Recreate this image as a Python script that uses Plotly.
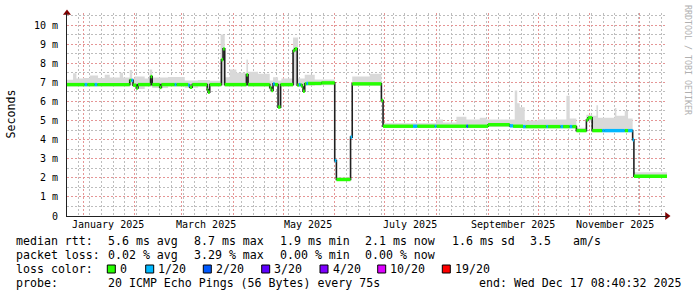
import plotly.graph_objects as go
import pandas as pd

# ---------------- data ----------------
start_time = "2024-12-22 08:40:32"
end_time = "2025-12-17 08:40:32"

median_start = [
    "2024-12-22 08:40", "2025-01-02 00:00", "2025-01-03 12:00", "2025-01-08 00:00", "2025-01-09 12:00",
    "2025-01-29 00:00", "2025-01-30 00:00", "2025-01-31 00:00", "2025-02-02 00:00", "2025-02-03 00:00",
    "2025-02-10 12:00", "2025-02-11 12:00", "2025-02-16 00:00", "2025-02-17 00:00", "2025-02-25 00:00",
    "2025-02-26 00:00", "2025-03-05 00:00", "2025-03-06 00:00", "2025-03-07 12:00", "2025-03-16 12:00",
    "2025-03-17 00:00", "2025-03-18 00:00", "2025-03-25 00:00", "2025-03-26 00:00", "2025-03-27 00:00",
    "2025-04-09 00:00", "2025-04-10 00:00", "2025-04-23 00:00", "2025-04-24 00:00", "2025-04-25 00:00",
    "2025-04-26 00:00", "2025-04-28 00:00", "2025-04-29 12:00", "2025-05-07 00:00", "2025-05-08 00:00",
    "2025-05-09 12:00", "2025-05-10 12:00", "2025-05-11 12:00", "2025-05-12 12:00", "2025-05-13 00:00",
    "2025-05-14 00:00", "2025-05-15 00:00", "2025-05-16 00:00", "2025-05-24 00:00", "2025-06-01 00:00",
    "2025-06-02 00:00", "2025-06-10 12:00", "2025-06-11 12:00", "2025-06-29 00:00", "2025-06-30 00:00",
    "2025-07-18 00:00", "2025-07-20 12:00", "2025-07-31 00:00", "2025-08-01 00:00", "2025-08-19 00:00",
    "2025-08-20 00:00", "2025-09-01 00:00", "2025-09-14 00:00", "2025-09-16 00:00", "2025-09-22 00:00",
    "2025-09-23 12:00", "2025-10-06 00:00", "2025-10-07 00:00", "2025-10-14 12:00", "2025-10-16 00:00",
    "2025-10-20 00:00", "2025-10-21 12:00", "2025-10-24 00:00", "2025-10-30 00:00", "2025-10-31 00:00",
    "2025-11-02 12:00", "2025-11-08 12:00", "2025-11-10 00:00", "2025-11-22 00:00", "2025-11-24 00:00",
    "2025-11-26 18:00", "2025-11-27 12:00",
]
median_ms = [
    6.88, 6.88, 6.88, 6.88, 6.88,
    7.10, 7.10, 6.85, 6.70, 6.88,
    7.30, 6.88, 6.73, 6.88, 6.88,
    6.88, 6.85, 6.74, 6.88, 6.62,
    6.48, 6.88, 8.18, 8.75, 6.88,
    7.39, 6.88, 6.72, 6.57, 6.92,
    6.88, 5.70, 6.88, 8.66, 8.75,
    6.85, 6.88, 6.85, 6.75, 6.53,
    6.92, 6.94, 6.94, 6.97, 2.90,
    1.91, 4.13, 6.92, 6.05, 4.70,
    4.70, 4.70, 4.70, 4.70, 4.70,
    4.70, 4.78, 4.72, 4.70, 4.68,
    4.68, 4.68, 4.68, 4.68, 4.68,
    4.68, 4.68, 4.47, 5.03, 5.14,
    4.47, 4.47, 4.47, 4.47, 4.47,
    3.99, 2.08,
]
median_loss = [
    0, 1, 0, 1, 0,
    0, 1, 0, 0, 0,
    0, 0, 0, 0, 1,
    0, 1, 0, 0, 0,
    0, 0, 0, 0, 0,
    0, 0, 0, 0, 1,
    0, 0, 0, 0, 0,
    0, 1, 0, 0, 0,
    0, 1, 0, 0, 1,
    0, 1, 0, 0, 0,
    1, 0, 1, 0, 2,
    0, 0, 1, 0, 1,
    0, 1, 0, 1, 0,
    1, 0, 0, 0, 0,
    0, 1, 1, 0, 1,
    1, 0,
]

smoke_start = [
    "2024-12-22 08:40", "2024-12-26 00:00", "2024-12-28 00:00", "2025-01-01 00:00", "2025-01-05 00:00",
    "2025-01-10 00:00", "2025-01-14 00:00", "2025-01-17 00:00", "2025-01-23 00:00", "2025-01-25 00:00",
    "2025-01-29 00:00", "2025-01-30 12:00", "2025-02-01 00:00", "2025-02-07 00:00", "2025-02-10 00:00",
    "2025-02-11 12:00", "2025-02-21 00:00", "2025-03-03 00:00", "2025-03-11 00:00", "2025-03-16 12:00",
    "2025-03-18 00:00", "2025-03-24 12:00", "2025-03-27 00:00", "2025-03-30 00:00", "2025-04-03 00:00",
    "2025-04-09 00:00", "2025-04-10 00:00", "2025-04-16 00:00", "2025-04-23 00:00", "2025-04-25 00:00",
    "2025-04-28 00:00", "2025-04-30 00:00", "2025-05-07 00:00", "2025-05-10 00:00", "2025-05-12 12:00",
    "2025-05-14 00:00", "2025-05-20 00:00", "2025-06-01 00:00", "2025-06-02 00:00", "2025-06-10 12:00",
    "2025-06-11 12:00", "2025-06-22 00:00", "2025-06-29 00:00", "2025-06-30 00:00", "2025-08-01 00:00",
    "2025-08-05 00:00", "2025-08-13 00:00", "2025-08-19 00:00", "2025-08-27 00:00", "2025-08-31 00:00",
    "2025-09-17 00:00", "2025-09-18 12:00", "2025-09-20 00:00", "2025-09-23 00:00", "2025-10-01 00:00",
    "2025-10-18 00:00", "2025-10-20 00:00", "2025-10-24 00:00", "2025-10-30 00:00", "2025-11-02 12:00",
    "2025-11-05 00:00", "2025-11-06 00:00", "2025-11-16 00:00", "2025-11-17 00:00", "2025-11-22 00:00",
    "2025-11-24 00:00", "2025-11-26 18:00", "2025-11-27 12:00",
]
smoke_lo_ms = [
    6.78, 6.78, 6.78, 6.78, 6.78,
    6.78, 6.78, 6.78, 6.78, 6.78,
    6.85, 6.78, 6.65, 6.78, 6.78,
    6.70, 6.78, 6.72, 6.78, 6.45,
    6.78, 6.85, 6.78, 6.78, 6.78,
    6.80, 6.78, 6.78, 6.52, 6.78,
    5.65, 6.78, 6.85, 6.78, 6.50,
    6.82, 6.84, 2.85, 1.86, 4.08,
    6.82, 6.82, 6.00, 4.62, 4.62,
    4.62, 4.62, 4.62, 4.62, 4.66,
    4.62, 4.62, 4.60, 4.60, 4.60,
    4.60, 4.60, 4.40, 4.95, 4.40,
    4.40, 4.40, 4.40, 4.40, 4.40,
    4.40, 3.95, 2.00,
]
smoke_hi_ms = [
    7.14, 7.48, 7.20, 7.22, 7.35,
    7.22, 7.40, 7.25, 7.50, 7.25,
    7.65, 7.20, 7.30, 7.20, 7.67,
    7.25, 7.28, 7.10, 7.12, 7.12,
    7.08, 9.50, 7.27, 7.67, 7.50,
    8.20, 7.55, 7.45, 7.10, 7.27,
    7.10, 7.20, 9.35, 7.20, 7.20,
    7.40, 7.15, 3.00, 2.02, 4.25,
    7.30, 7.45, 6.15, 4.86, 5.05,
    4.90, 5.20, 5.05, 5.15, 5.05,
    6.57, 5.90, 5.70, 5.00, 5.05,
    6.30, 5.10, 4.62, 5.30, 5.25,
    5.80, 5.15, 5.65, 5.25, 5.50,
    5.10, 4.05, 2.29,
]

month_grid = ["2025-%02d-01" % m for m in range(1, 13)]
month_label_pos = ["2025-01-16", "2025-03-16", "2025-05-16", "2025-07-16", "2025-09-16", "2025-11-16"]
month_labels = ["January 2025", "March 2025", "May 2025", "July 2025", "September 2025", "November 2025"]

y_tick_vals = [0, 1, 2, 3, 4, 5, 6, 7, 8, 9, 10]
y_tick_text = ["0", "1 m", "2 m", "3 m", "4 m", "5 m", "6 m", "7 m", "8 m", "9 m", "10 m"]
y_minor_vals = [0.5, 1.5, 2.5, 3.5, 4.5, 5.5, 6.5, 7.5, 8.5, 9.5, 10.5]

loss_levels = [0, 1, 2, 3, 4, 10, 19]
loss_labels = ["0", "1/20", "2/20", "3/20", "4/20", "10/20", "19/20"]
loss_colors = ["#26ff00", "#00b8ff", "#0059ff", "#5e00ff", "#7e00ff", "#dd00ff", "#ff0000"]

rtt_stats = ["5.6 ms avg", "8.7 ms max", "1.9 ms min", "2.1 ms now", "1.6 ms sd", "3.5", "am/s"]
loss_stats = ["0.02 % avg", "3.29 % max", "0.00 % min", "0.00 % now"]
probe_text = "20 ICMP Echo Pings (56 Bytes) every 75s"
end_text = "end: Wed Dec 17 08:40:32 2025"

# ---------------- layout geometry (pixels) ----------------
W, H = 697, 297
ML, MR, MT, MB = 67, 30, 13, 81
PW, PH = W - ML - MR, H - MT - MB
PX_PER_MS = 19.1
Y_TOP = PH / PX_PER_MS
FONT = "DejaVu Sans Mono"


def px(xp):
    return (xp - ML) / PW


def py(yp):
    return (MT + PH - yp) / PH


fig = go.Figure()

# smoke
s_x = smoke_start + [end_time]
fig.add_trace(go.Scatter(x=s_x, y=smoke_lo_ms + [smoke_lo_ms[-1]], mode="lines",
                         line=dict(width=0, shape="hv"), hoverinfo="skip", showlegend=False))
fig.add_trace(go.Scatter(x=s_x, y=smoke_hi_ms + [smoke_hi_ms[-1]], mode="lines",
                         line=dict(width=0, shape="hv"), fill="tonexty", fillcolor="#d9d9d9",
                         hoverinfo="skip", showlegend=False))

# black median step line
m_x = median_start + [end_time]
fig.add_trace(go.Scatter(x=m_x, y=median_ms + [median_ms[-1]], mode="lines",
                         line=dict(width=1.6, color="#202020", shape="hv"),
                         hoverinfo="skip", showlegend=False))

# loss-coloured median bands
ends = median_start[1:] + [end_time]
for lvl, col in zip(loss_levels, loss_colors):
    xs, ys = [], []
    for s, e, v, l in zip(median_start, ends, median_ms, median_loss):
        if l == lvl:
            xs += [s, e, None]
            ys += [v, v, None]
    if xs:
        fig.add_trace(go.Scatter(x=xs, y=ys, mode="lines", line=dict(width=3.4, color=col),
                                 hoverinfo="skip", showlegend=False))

# axis arrows
fig.add_trace(go.Scatter(x=[end_time], y=[0], mode="markers", cliponaxis=False,
                         marker=dict(symbol="triangle-right", size=7, color="#800000"),
                         hoverinfo="skip", showlegend=False))
fig.add_trace(go.Scatter(x=[start_time], y=[Y_TOP], mode="markers", cliponaxis=False,
                         marker=dict(symbol="triangle-up", size=7, color="#800000"),
                         hoverinfo="skip", showlegend=False))

mgrid = "#e59595"
grid = "#bdbdbd"
DASH = "2px,2px"
sundays = [d.strftime("%Y-%m-%d") for d in pd.date_range("2024-12-29", "2025-12-14", freq="7D")]

fig.update_layout(
    width=W, height=H,
    margin=dict(l=ML, r=MR, t=MT, b=MB, pad=0),
    paper_bgcolor="white", plot_bgcolor="white",
    showlegend=False,
    font=dict(family=FONT, size=10, color="black"),
    xaxis=dict(type="date", range=[start_time, end_time], tickmode="array", tickvals=month_grid,
               showticklabels=False, ticks="", showgrid=True, gridcolor=mgrid, griddash=DASH,
               gridwidth=1, showline=True, linecolor="#212121", linewidth=1, zeroline=False,
               minor=dict(tickmode="array", tickvals=sundays, showgrid=True, gridcolor=grid,
                          griddash=DASH, gridwidth=1, ticks="")),
    yaxis=dict(range=[0, Y_TOP], tickmode="array", tickvals=y_tick_vals, ticktext=y_tick_text,
               showgrid=True, gridcolor=mgrid, griddash=DASH, gridwidth=1, ticks="",
               showline=True, linecolor="#212121", linewidth=1, zeroline=False,
               ticklabelstandoff=6, tickfont=dict(family=FONT, size=10, color="black"),
               minor=dict(tickmode="array", tickvals=y_minor_vals, showgrid=True, gridcolor=grid,
                          griddash=DASH, gridwidth=1, ticks="")),
)

ann = []
LF = dict(family=FONT, size=11.6, color="black")

# month labels (x tick labels, centred in the middle of the labelled month)
for pos, lab in zip(month_label_pos, month_labels):
    ann.append(dict(x=pos, y=py(224.5), xref="x", yref="paper", text=lab, showarrow=False,
                    xanchor="center", yanchor="middle", font=dict(family=FONT, size=10, color="black")))


def text(xp, yp, t, **kw):
    d = dict(x=px(xp), y=py(yp), xref="paper", yref="paper", text=t, showarrow=False,
             xanchor="left", yanchor="middle", font=LF, borderpad=0)
    d.update(kw)
    ann.append(d)


rows = [240.7, 255.0, 269.0, 283.3]
text(15, rows[0], "median rtt:")
for xp, t in zip([106.5, 192.5, 279.2, 364.2, 451, 529.2, 571.5], rtt_stats):
    text(xp, rows[0], t)
text(15, rows[1], "packet loss:")
for xp, t in zip([106.5, 192.5, 279.2, 364.2], loss_stats):
    text(xp, rows[1], t)
text(15, rows[2], "loss color:")
box_x = [107.3, 145.7, 203.3, 261.7, 320.0, 377.7, 442.3]
shapes = []
for bx, lab, col in zip(box_x, loss_labels, loss_colors):
    shapes.append(dict(type="rect", xref="paper", yref="paper", x0=px(bx), x1=px(bx + 8),
                       y0=py(rows[2] + 4), y1=py(rows[2] - 4), fillcolor=col,
                       line=dict(color="black", width=1)))
    text(bx + 11.5, rows[2], lab)
text(15, rows[3], "probe:")
text(106.5, rows[3], probe_text)
text(477.5, rows[3], end_text)

ann.append(dict(x=px(10.5), y=py(114), xref="paper", yref="paper", text="Seconds", textangle=-90,
                showarrow=False, xanchor="center", yanchor="middle", font=LF))
ann.append(dict(x=px(688), y=py(60), xref="paper", yref="paper", text="RRDTOOL / TOBI OETIKER",
                textangle=90, showarrow=False, xanchor="center", yanchor="middle",
                font=dict(family=FONT, size=8.3, color="#b0b0b0")))

fig.update_layout(annotations=ann, shapes=shapes)
fig.write_html("out.html")
